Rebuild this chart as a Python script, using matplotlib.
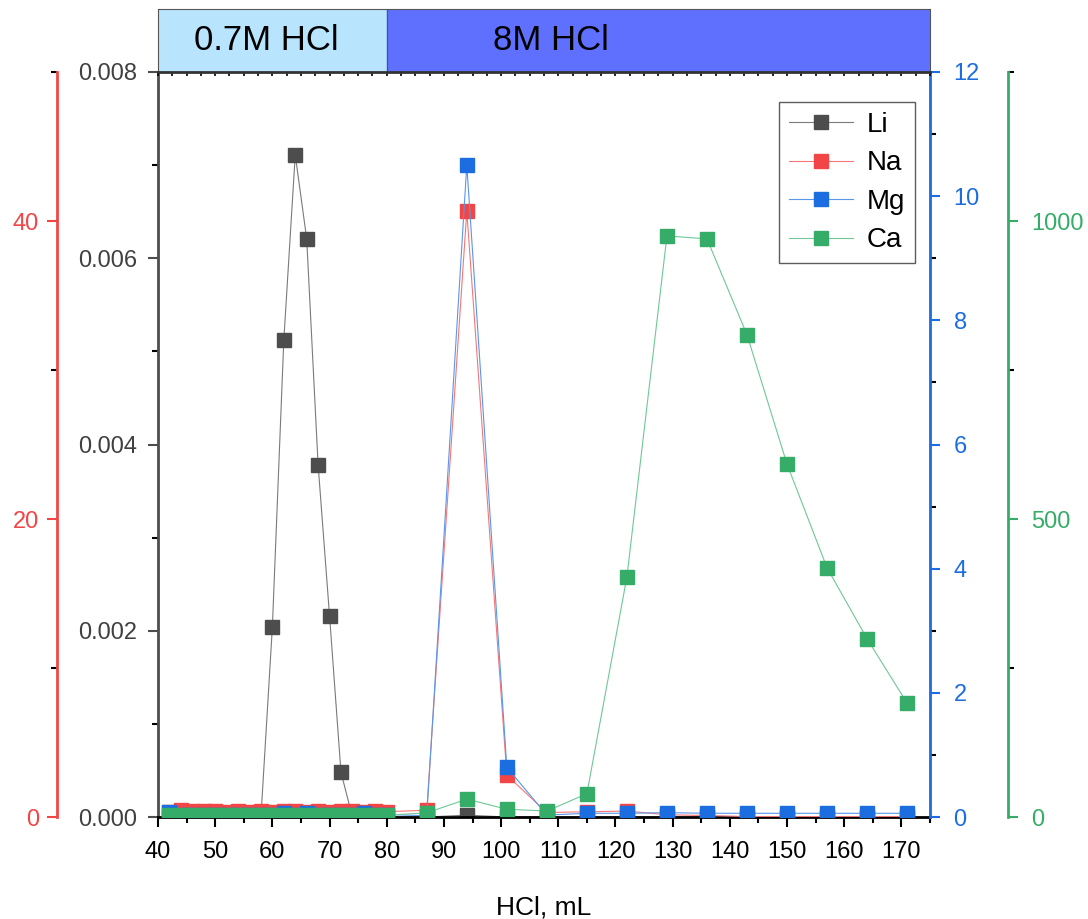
from matplotlib import pyplot as plt
from matplotlib.ticker import MultipleLocator
import numpy as np

plt.rcParams['font.family'] = ['Liberation Sans', 'DejaVu Sans']

# HCl volume, mL
vol = [42, 44, 46, 48, 50, 52, 54, 56, 58, 60, 62, 64, 66, 68, 70, 72, 74, 76, 78, 80,
       87, 94, 101, 108, 115, 122, 129, 136, 143, 150, 157, 164, 171]

li = [0, 0, 0, 0, 0, 0, 0, 0, 0, 0.00204, 0.00512, 0.00711, 0.00621, 0.00378, 0.00216, 0.00048, 0, 0, 0, 0,
      0, 0.00002, 0, 0, 0, 0, 0, 0, 0, 0, 0, 0, 0]
na = [0.35, 0.45, 0.42, 0.38, 0.38, 0.36, 0.38, 0.36, 0.38, 0.36, 0.38, 0.42, 0.36, 0.38, 0.36, 0.38, 0.40, 0.36, 0.40, 0.36,
      0.45, 40.67, 2.8, 0.3, 0.35, 0.4, 0.15, 0.1, 0.03, 0.03, 0.03, 0.03, 0.03]
mg = [0.08, 0.04, 0.04, 0.04, 0.04, 0.04, 0.04, 0.04, 0.04, 0.04, 0.06, 0.04, 0.06, 0.04, 0.04, 0.04, 0.04, 0.06, 0.04, 0.04,
      0.02, 10.5, 0.8, 0.03, 0.06, 0.06, 0.07, 0.06, 0.06, 0.06, 0.06, 0.06, 0.06]
ca = [3, 3, 3, 3, 3, 3, 3, 3, 3, 3, 3, 3, 3, 3, 3, 3, 3, 3, 3, 3,
      7, 30, 13, 10, 39, 403, 975, 970, 809, 592, 418, 299, 191]

c_li = '#4d4d4d'
c_na = '#f24646'
c_mg = '#1c6ee0'
c_ca = '#35ad68'

fig = plt.figure(figsize=(10.88, 9.19), dpi=100)
ax = fig.add_axes([158/1088, 1-817/919, 772/1088, 745/919])
ax_na = ax.twinx()
ax_mg = ax.twinx()
ax_ca = ax.twinx()

# left side: Li main axis, Na offset axis further left
ax_na.yaxis.set_label_position('left')
ax_na.yaxis.tick_left()
ax_na.spines['left'].set_position(('axes', -0.131))
ax_ca.spines['right'].set_position(('axes', 1.101))

ms = 9.5
lw = 0.8
l1, = ax.plot(vol, li, '-s', color='#7a7a7a', mfc=c_li, mec=c_li, ms=ms, lw=lw, label='Li')
l2, = ax_na.plot(vol, na, '-s', color='#f47777', mfc=c_na, mec=c_na, ms=ms, lw=lw, label='Na')
l3, = ax_mg.plot(vol, mg, '-s', color='#5a96ea', mfc=c_mg, mec=c_mg, ms=ms, lw=lw, label='Mg')
l4, = ax_ca.plot(vol, ca, '-s', color='#6fc896', mfc=c_ca, mec=c_ca, ms=ms, lw=lw, label='Ca')

ax.set_xlim(40, 175)
ax.set_ylim(0, 0.008)
ax_na.set_ylim(0, 50)
ax_mg.set_ylim(0, 12)
ax_ca.set_ylim(0, 1250)

ax.xaxis.set_major_locator(MultipleLocator(10))
ax.xaxis.set_minor_locator(MultipleLocator(5))
ax.yaxis.set_major_locator(MultipleLocator(0.002))
ax.yaxis.set_minor_locator(MultipleLocator(0.001))
ax.yaxis.set_major_formatter(plt.FormatStrFormatter('%.3f'))
ax_na.yaxis.set_major_locator(MultipleLocator(20))
ax_na.yaxis.set_minor_locator(MultipleLocator(10))
ax_mg.yaxis.set_major_locator(MultipleLocator(2))
ax_mg.yaxis.set_minor_locator(MultipleLocator(1))
ax_ca.yaxis.set_major_locator(MultipleLocator(500))
ax_ca.yaxis.set_minor_locator(MultipleLocator(250))

for a in [ax, ax_na, ax_mg, ax_ca]:
    a.tick_params(which='major', length=7, width=1.5, labelsize=17, pad=6)
    a.tick_params(which='minor', length=4, width=1.5)

ax.tick_params(axis='x', colors='black', pad=10)
ax.tick_params(axis='y', colors='#4d4d4d', labelcolor='#404040', pad=8)
ax.spines['left'].set_color('#4d4d4d')
ax.spines['bottom'].set_color('black')
for s in ['left', 'bottom']:
    ax.spines[s].set_linewidth(2)
ax.spines['top'].set_visible(False)

for a, c, side in [(ax_na, c_na, 'left'), (ax_mg, c_mg, 'right'), (ax_ca, c_ca, 'right')]:
    for s in a.spines.values():
        s.set_visible(False)
    a.spines[side].set_visible(True)
    a.spines[side].set_color(c)
    a.spines[side].set_linewidth(2)
    a.tick_params(axis='y', colors=c)
ax_mg.spines['right'].set_position(('axes', 1.0))
ax_mg.tick_params(axis='y', pad=10)
ax_ca.tick_params(axis='y', pad=10)
ax_na.tick_params(axis='y', pad=6)

ax.set_xlabel('HCl, mL', fontsize=19, labelpad=24)

leg = ax_ca.legend(handles=[l1, l2, l3, l4], loc='upper right', fontsize=20,
                   bbox_to_anchor=(0.9806, 0.9597), frameon=True, fancybox=False,
                   handlelength=2.3, handletextpad=0.5, borderpad=0.35, labelspacing=0.45,
                   borderaxespad=0)
leg.get_frame().set_edgecolor('#333333')
leg.get_frame().set_linewidth(1)

# solvent band on top
band = fig.add_axes([158/1088, 1-72/919, 772/1088, 63/919])
band.set_xlim(40, 175)
band.set_ylim(0, 1)
band.axvspan(40, 80, color='#b8e4fd')
band.axvspan(80, 175, color='#5f70ff')
band.text(59, 0.5, '0.7M HCl', ha='center', va='center', fontsize=25)
band.text(108.8, 0.5, '8M HCl', ha='center', va='center', fontsize=25)
band.axvline(80, color='#555555', lw=0.8)
band.set_yticks([])
band.xaxis.set_major_locator(MultipleLocator(5))
band.xaxis.set_minor_locator(MultipleLocator(2.5))
band.tick_params(axis='x', which='both', labelbottom=False, length=3, width=1.2)
for s in band.spines.values():
    s.set_color('#555555')
    s.set_linewidth(0.8)
band.spines['bottom'].set_linewidth(2)
band.spines['bottom'].set_color('#333333')

plt.savefig('out.png', dpi=100)
